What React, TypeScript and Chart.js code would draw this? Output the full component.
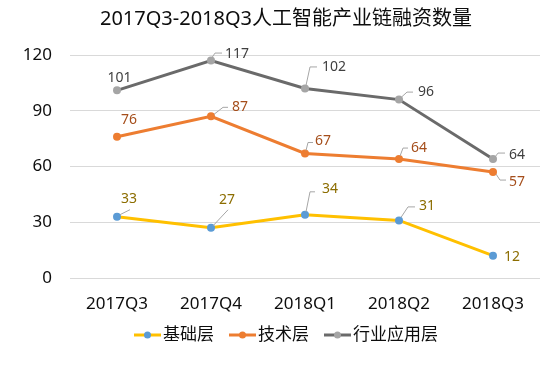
import React, { useEffect, useRef } from 'react';
import { Chart, registerables } from 'chart.js';

Chart.register(...registerables);

const titleText = '2017Q3-2018Q3人工智能产业链融资数量';
const categories = ['2017Q3', '2017Q4', '2018Q1', '2018Q2', '2018Q3'];
const seriesNames = ['基础层', '技术层', '行业应用层'];
const baseLayer = [33, 27, 34, 31, 12];
const techLayer = [76, 87, 67, 64, 57];
const appLayer = [101, 117, 102, 96, 64];
const yTickValues = [0, 30, 60, 90, 120];

const FONT = '"Noto Sans", "Noto Sans CJK SC", sans-serif';

// style: line colour, marker colour, label colour
const seriesStyles = [
  { line: '#FFC000', marker: '#5B9BD5', label: '#8C6D00' },
  { line: '#ED7D31', marker: '#ED7D31', label: '#A54E1B' },
  { line: '#6A6A6A', marker: '#A5A5A5', label: '#404040' },
];

type LabelStyle = { dx: number; dy: number; leader?: number[][] };

// label placement (pixel offsets from each point), per series
const labelStyles: LabelStyle[][] = [
  [
    { dx: 12, dy: -17.5, leader: [[3, -2], [13, -7]] },
    { dx: 16, dy: -28, leader: [[2, -2], [17, -18]] },
    { dx: 25, dy: -26, leader: [[1, -3], [5, -23], [10, -23]] },
    { dx: 28, dy: -14.5, leader: [[2, -3], [9, -13.5], [16, -13.5]] },
    { dx: 19, dy: 1 },
  ],
  [
    { dx: 12, dy: -17 },
    { dx: 29, dy: -9, leader: [[3, -2], [12, -9], [17, -9]] },
    { dx: 18, dy: -12.5, leader: [[1, -3], [3, -11], [8, -11]] },
    { dx: 20, dy: -11, leader: [[1, -3], [4, -11], [9, -11]] },
    { dx: 24, dy: 10, leader: [[3, 2], [7, 8], [13, 8]] },
  ],
  [
    { dx: 2.5, dy: -12 },
    { dx: 26, dy: -6.5, leader: [[1, -3], [4, -7.5], [11, -7.5]] },
    { dx: 29, dy: -21.5, leader: [[1, -3], [5, -21.5], [12, -21.5]] },
    { dx: 27, dy: -7.5, leader: [[3, -3], [8, -7.5], [14, -7.5]] },
    { dx: 24, dy: -4, leader: [[2, -2], [5, -6], [12, -6]] },
  ],
];

const decorPlugin = {
  id: 'decor',
  afterDatasetsDraw(chart: any) {
    const ctx = chart.ctx as CanvasRenderingContext2D;
    ctx.save();
    chart.data.datasets.forEach((ds: any, di: number) => {
      const meta = chart.getDatasetMeta(di);
      meta.data.forEach((pt: any, i: number) => {
        const st = labelStyles[di][i];
        const x = pt.x;
        const y = pt.y;
        if (st.leader) {
          ctx.beginPath();
          ctx.strokeStyle = '#A6A6A6';
          ctx.lineWidth = 1;
          st.leader.forEach((p, k) => {
            if (k === 0) ctx.moveTo(x + p[0], y + p[1]);
            else ctx.lineTo(x + p[0], y + p[1]);
          });
          ctx.stroke();
        }
        ctx.fillStyle = seriesStyles[di].label;
        ctx.font = `14px ${FONT}`;
        ctx.textAlign = 'center';
        ctx.textBaseline = 'middle';
        ctx.fillText(String(ds.data[i]), x + st.dx, y + st.dy);
      });
    });
    ctx.restore();
  },
  afterDraw(chart: any) {
    const ctx = chart.ctx as CanvasRenderingContext2D;
    ctx.save();
    ctx.fillStyle = '#0D0D0D';
    ctx.font = `20px ${FONT}`;
    ctx.textAlign = 'center';
    ctx.textBaseline = 'middle';
    ctx.fillText(titleText, 286, 19);

    const ly = 335;
    ctx.font = `17px ${FONT}`;
    ctx.textAlign = 'left';
    const gap = 15;
    const lineLen = 27;
    const widths = seriesNames.map((n) => ctx.measureText(n).width);
    const total = widths.reduce((a, w) => a + lineLen + 2 + w, 0) + gap * (seriesNames.length - 1);
    let x = 286 - total / 2;
    seriesNames.forEach((name, i) => {
      const s = seriesStyles[i];
      ctx.beginPath();
      ctx.strokeStyle = s.line;
      ctx.lineWidth = 3;
      ctx.moveTo(x, ly);
      ctx.lineTo(x + lineLen, ly);
      ctx.stroke();
      ctx.beginPath();
      ctx.fillStyle = s.marker;
      ctx.arc(x + lineLen / 2, ly, 3.5, 0, Math.PI * 2);
      ctx.fill();
      ctx.fillStyle = '#0D0D0D';
      ctx.fillText(name, x + lineLen + 2, ly);
      x += lineLen + 2 + widths[i] + gap;
    });
    ctx.restore();
  },
};

export default function App() {
  const ref = useRef<HTMLCanvasElement | null>(null);
  useEffect(() => {
    if (!ref.current) return;
    const seriesData = [baseLayer, techLayer, appLayer];
    const chart = new Chart(ref.current, {
      type: 'line',
      data: {
        labels: categories,
        datasets: seriesData.map((d, i) => ({
          label: seriesNames[i],
          data: d,
          borderColor: seriesStyles[i].line,
          backgroundColor: seriesStyles[i].marker,
          pointBackgroundColor: seriesStyles[i].marker,
          pointBorderColor: seriesStyles[i].marker,
          borderWidth: 3,
          pointRadius: 4,
          pointBorderWidth: 0,
          tension: 0,
          fill: false,
        })),
      },
      options: {
        responsive: false,
        animation: false,
        devicePixelRatio: 1,
        layout: { padding: { top: 55, right: 10, left: 0, bottom: 0 } },
        plugins: {
          legend: { display: false },
          title: { display: false },
          tooltip: { enabled: false },
        },
        scales: {
          x: {
            offset: true,
            grid: { display: false },
            border: { display: false },
            ticks: {
              color: '#0D0D0D',
              font: { size: 17, family: FONT },
              padding: 8,
              maxRotation: 0,
            },
            afterFit(scale: any) {
              scale.height = 87;
            },
          },
          y: {
            min: 0,
            max: 120,
            afterBuildTicks(scale: any) {
              scale.ticks = yTickValues.map((v) => ({ value: v }));
            },
            grid: { color: '#D9D9D9', lineWidth: 1, drawTicks: false },
            border: { display: false },
            ticks: {
              color: '#0D0D0D',
              font: { size: 17, family: FONT },
              padding: 18,
            },
            afterFit(scale: any) {
              scale.width = 70;
            },
          },
        },
      },
      plugins: [decorPlugin],
    });
    return () => chart.destroy();
  }, []);
  return (
    <div style={{ position: 'fixed', left: 0, top: 0, width: 550, height: 365, background: '#fff' }}>
      <canvas ref={ref} width={550} height={365} />
    </div>
  );
}
